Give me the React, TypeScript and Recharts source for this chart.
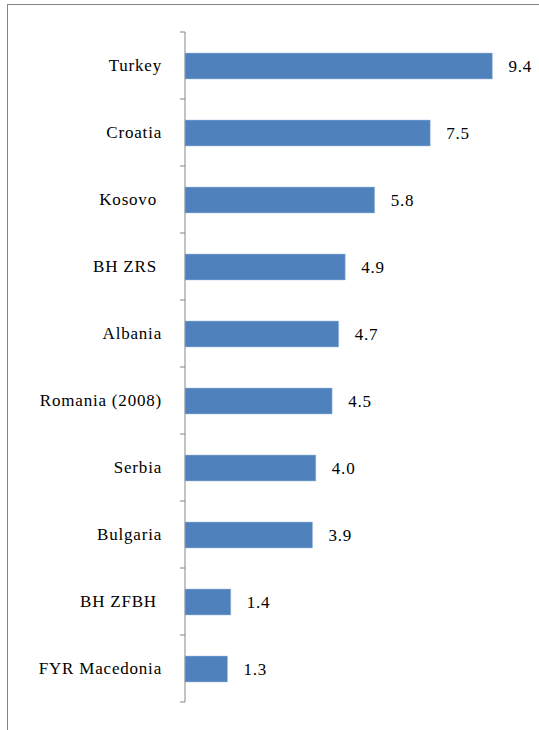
import React from 'react';
import { Bar, BarChart, LabelList, XAxis, YAxis } from 'recharts';

const countries = [
  'Turkey',
  'Croatia',
  'Kosovo\u00a0',
  'BH ZRS\u00a0',
  'Albania',
  'Romania (2008)',
  'Serbia',
  'Bulgaria',
  'BH ZFBH\u00a0',
  'FYR Macedonia',
];
const values = [9.4, 7.5, 5.8, 4.9, 4.7, 4.5, 4.0, 3.9, 1.4, 1.3];
const xTicks = [0, 10];

const data = countries.map((name, i) => ({ name, value: values[i] }));

const AXIS_COLOR = '#868686';
const BAR_COLOR = '#4f81bd';
const FONT = 'Liberation Serif, Tinos, Times New Roman, DejaVu Serif, serif';
const TICK_SIZE = 5;
const TICK_MARGIN = 18;
const textStyle = { fontFamily: FONT, fontSize: 17, letterSpacing: 0.8 };

// category label plus the tick marks that sit between categories
const CategoryTick = (props: any) => {
  const { x, y, payload, index, visibleTicksCount } = props;
  const half = payload?.offset ?? 33.5;
  const axisX = x + TICK_SIZE + TICK_MARGIN;
  const isLast = index === visibleTicksCount - 1;
  return (
    <g>
      <line x1={axisX - TICK_SIZE} x2={axisX} y1={y - half} y2={y - half} stroke={AXIS_COLOR} />
      {isLast && (
        <line x1={axisX - TICK_SIZE} x2={axisX} y1={y + half} y2={y + half} stroke={AXIS_COLOR} />
      )}
      <text x={x} y={y} dy="0.35em" textAnchor="end" fill="#000" style={textStyle}>
        {payload.value}
      </text>
    </g>
  );
};

export default function App() {
  return (
    <div
      style={{
        position: 'fixed',
        left: 0,
        top: 0,
        width: 539,
        height: 730,
        overflow: 'hidden',
        background: '#fff',
      }}
    >
      <div
        style={{
          position: 'absolute',
          left: 7,
          top: 4,
          width: 560,
          height: 760,
          border: `1px solid ${AXIS_COLOR}`,
        }}
      />
      <div style={{ position: 'absolute', left: 0, top: 0 }}>
        <BarChart
          width={539}
          height={730}
          data={data}
          layout="vertical"
          margin={{ top: 32, right: 27, bottom: 28, left: 0 }}
        >
          <XAxis type="number" domain={[0, 10]} ticks={xTicks} hide />
          <YAxis
            type="category"
            dataKey="name"
            width={185}
            interval={0}
            tickSize={TICK_SIZE}
            tickMargin={TICK_MARGIN}
            tickLine={false}
            axisLine={{ stroke: AXIS_COLOR }}
            tick={<CategoryTick />}
          />
          <Bar
            dataKey="value"
            fill={BAR_COLOR}
            stroke="#a9c1e0"
            strokeWidth={0.5}
            barSize={26}
            isAnimationActive={false}
          >
            <LabelList
              dataKey="value"
              position="right"
              offset={16}
              formatter={(v: any) => Number(v).toFixed(1)}
              fill="#000"
              style={textStyle}
            />
          </Bar>
        </BarChart>
      </div>
    </div>
  );
}
